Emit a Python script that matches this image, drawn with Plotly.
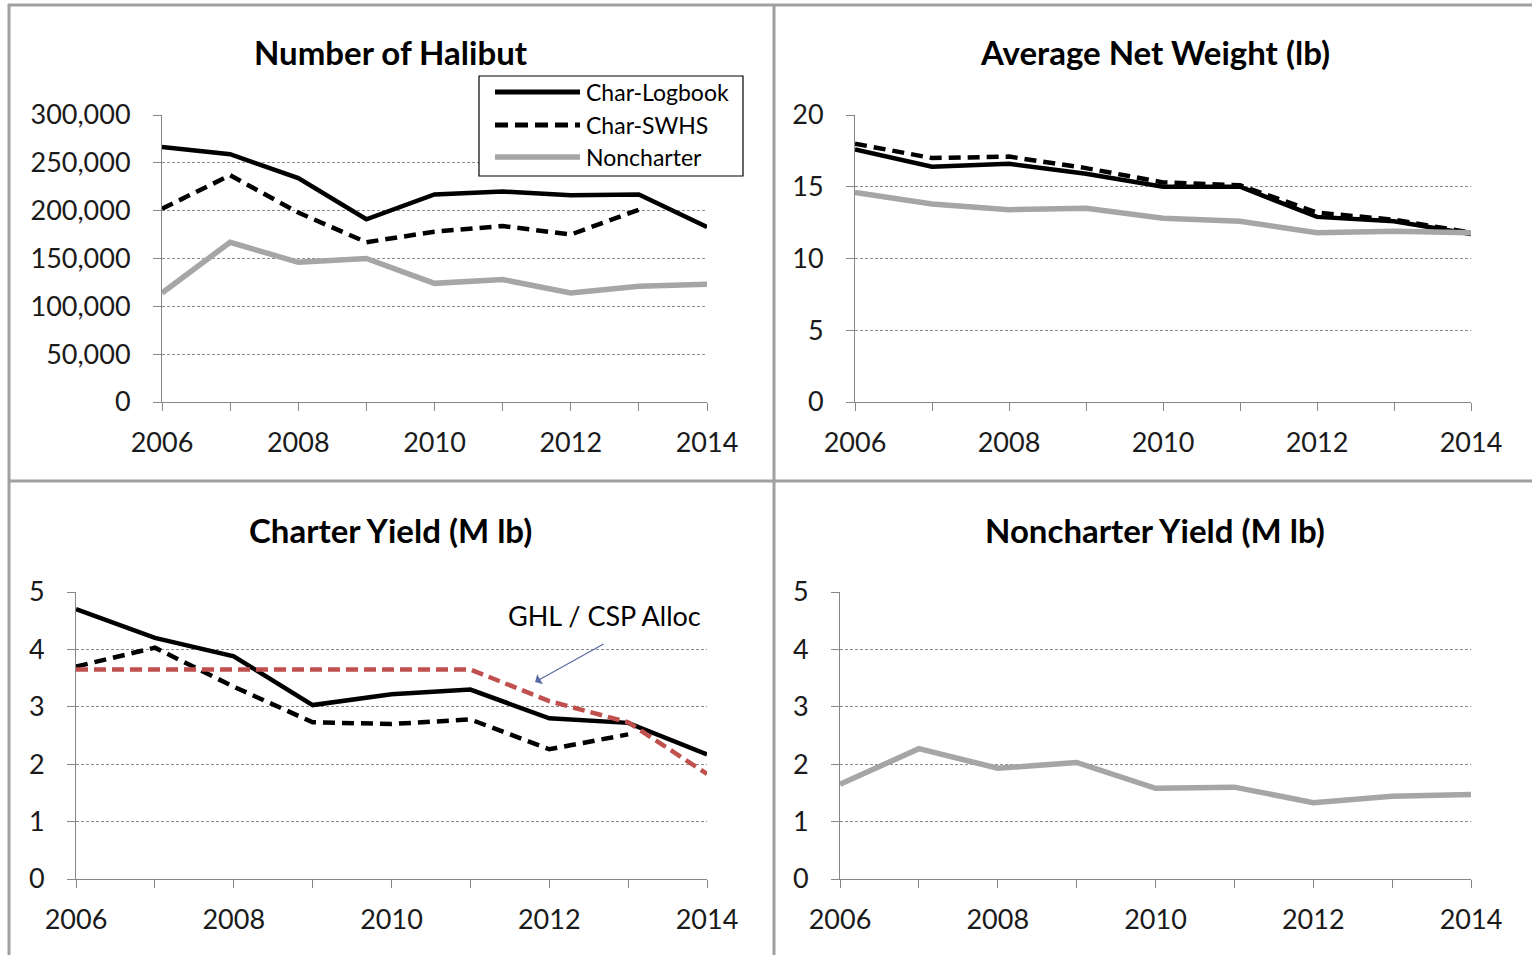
import plotly.graph_objects as go

years = [2006, 2007, 2008, 2009, 2010, 2011, 2012, 2013, 2014]
swhs_years = [2006, 2007, 2008, 2009, 2010, 2011, 2012, 2013]
year_ticks = [2006, 2007, 2008, 2009, 2010, 2011, 2012, 2013, 2014]
year_labels = ["2006", "", "2008", "", "2010", "", "2012", "", "2014"]

# Number of Halibut
num_logbook = [266500, 259000, 234000, 191000, 217000, 220000, 216000, 217000, 183000]
num_swhs = [202000, 237000, 198000, 167000, 178000, 184000, 175000, 201000]
num_nonch = [114000, 167000, 146000, 150000, 124000, 128000, 114000, 121000, 123000]

# Average Net Weight (lb)
wt_logbook = [17.6, 16.4, 16.6, 15.9, 15.0, 15.0, 12.9, 12.6, 11.7]
wt_swhs = [18.0, 17.0, 17.1, 16.3, 15.3, 15.1, 13.2, 12.7, 11.8]
wt_nonch = [14.6, 13.8, 13.4, 13.5, 12.8, 12.6, 11.8, 11.9, 11.8]

# Charter Yield (M lb)
cy_logbook = [4.70, 4.20, 3.88, 3.03, 3.22, 3.30, 2.80, 2.72, 2.17]
cy_swhs = [3.70, 4.03, 3.35, 2.73, 2.70, 2.78, 2.26, 2.52]
cy_ghl = [3.65, 3.65, 3.65, 3.65, 3.65, 3.65, 3.10, 2.73, 1.83]

# Noncharter Yield (M lb)
ny_nonch = [1.65, 2.27, 1.93, 2.03, 1.58, 1.60, 1.33, 1.44, 1.47]

titles = ["Number of Halibut", "Average Net Weight (lb)",
          "Charter Yield (M lb)", "Noncharter Yield (M lb)"]
legend_names = ["Char-Logbook", "Char-SWHS", "Noncharter"]

W, H = 1532, 955
FONT = "Lato, 'Open Sans', sans-serif"
BLACK = "#000000"
GREY_LINE = "#a6a6a6"
RED = "#c0504d"
AXIS = "#868686"


def px(x):
    return x / W


def py(y):
    return 1 - y / H


style_solid = dict(color=BLACK, width=4.5)
style_dash = dict(color=BLACK, width=4.5, dash="12px,7px")
style_grey = dict(color=GREY_LINE, width=5.5)
style_red = dict(color=RED, width=4.5, dash="12px,6px")

fig = go.Figure()

# panel 1
fig.add_trace(go.Scatter(x=years, y=num_logbook, mode="lines", line=style_solid, xaxis="x", yaxis="y", name=legend_names[0]))
fig.add_trace(go.Scatter(x=swhs_years, y=num_swhs, mode="lines", line=style_dash, xaxis="x", yaxis="y", name=legend_names[1]))
fig.add_trace(go.Scatter(x=years, y=num_nonch, mode="lines", line=style_grey, xaxis="x", yaxis="y", name=legend_names[2]))
# panel 2
fig.add_trace(go.Scatter(x=years, y=wt_logbook, mode="lines", line=style_solid, xaxis="x2", yaxis="y2"))
fig.add_trace(go.Scatter(x=years, y=wt_swhs, mode="lines", line=style_dash, xaxis="x2", yaxis="y2"))
fig.add_trace(go.Scatter(x=years, y=wt_nonch, mode="lines", line=style_grey, xaxis="x2", yaxis="y2"))
# panel 3
fig.add_trace(go.Scatter(x=years, y=cy_logbook, mode="lines", line=style_solid, xaxis="x3", yaxis="y3"))
fig.add_trace(go.Scatter(x=swhs_years, y=cy_swhs, mode="lines", line=style_dash, xaxis="x3", yaxis="y3"))
fig.add_trace(go.Scatter(x=years, y=cy_ghl, mode="lines", line=style_red, xaxis="x3", yaxis="y3"))
# panel 4
fig.add_trace(go.Scatter(x=years, y=ny_nonch, mode="lines", line=style_grey, xaxis="x4", yaxis="y4"))

panels = [
    # (x_left, x_right, y_bottom, y_top, yrange, dtick, fmt)
    (162, 707, 402, 115, [0, 300000], 50000, ",d"),
    (855, 1471, 402, 115, [0, 20], 5, "d"),
    (76, 707, 879, 592, [0, 5], 1, "d"),
    (840, 1471, 879, 592, [0, 5], 1, "d"),
]

layout = dict(
    width=W, height=H,
    margin=dict(l=0, r=0, t=0, b=0, pad=0, autoexpand=False),
    paper_bgcolor="white", plot_bgcolor="white",
    showlegend=False,
    font=dict(family=FONT, color="#000000"),
)

for i, (xl, xr, yb, yt, yr, dt, fmt) in enumerate(panels):
    sfx = "" if i == 0 else str(i + 1)
    layout["xaxis" + sfx] = dict(
        domain=[px(xl), px(xr)], range=[2006, 2014], anchor="y" + sfx,
        tickvals=year_ticks, ticktext=year_labels,
        ticks="outside", ticklen=8, tickcolor=AXIS, tickwidth=1,
        showline=True, linecolor=AXIS, linewidth=1,
        showgrid=False, zeroline=False, automargin=False,
        tickfont=dict(family=FONT, size=27, color="#1a1a1a"),
        ticklabelstandoff=9, fixedrange=True,
    )
    layout["yaxis" + sfx] = dict(
        domain=[py(yb), py(yt)], range=yr, anchor="x" + sfx,
        dtick=dt, tick0=0, tickformat=fmt,
        ticks="outside", ticklen=8, tickcolor=AXIS, tickwidth=1,
        showline=True, linecolor=AXIS, linewidth=1,
        showgrid=True, gridcolor="#8c8c8c", gridwidth=1, griddash="3px,2px",
        zeroline=False, automargin=False,
        tickfont=dict(family=FONT, size=27, color="#1a1a1a"),
        ticklabelstandoff=17, fixedrange=True,
    )

fig.update_layout(**layout)

# panel titles
title_pos = [(391, 52), (1155, 52), (390, 530), (1155, 530)]
for t, (cx, cy) in zip(titles, title_pos):
    fig.add_annotation(text="<b>" + t + "</b>", xref="paper", yref="paper",
                       x=px(cx), y=py(cy), xanchor="center", yanchor="middle",
                       showarrow=False, font=dict(family=FONT, size=33, color="#000000"))

# panel borders
border = dict(color="#a0a0a0", width=3)
shapes = [
    dict(type="line", xref="paper", yref="paper", x0=px(8), x1=1, y0=py(5), y1=py(5), line=border),
    dict(type="line", xref="paper", yref="paper", x0=px(9), x1=px(9), y0=py(4), y1=0, line=border),
    dict(type="line", xref="paper", yref="paper", x0=px(774), x1=px(774), y0=py(4), y1=0, line=border),
    dict(type="line", xref="paper", yref="paper", x0=px(8), x1=1, y0=py(481), y1=py(481), line=border),
]

# custom legend box in panel 1
shapes.append(dict(type="rect", xref="paper", yref="paper", x0=px(479), x1=px(743),
                   y0=py(176), y1=py(76), line=dict(color="#000000", width=1.2),
                   fillcolor="white", layer="above"))
legend_styles = [dict(color=BLACK, width=5), dict(color=BLACK, width=5, dash="13px,7px"),
                 dict(color=GREY_LINE, width=5.5)]
legend_rows = [92, 125, 157]
for name, st, ly in zip(legend_names, legend_styles, legend_rows):
    shapes.append(dict(type="line", xref="paper", yref="paper", x0=px(495), x1=px(580),
                       y0=py(ly), y1=py(ly), line=st, layer="above"))
    fig.add_annotation(text=name, xref="paper", yref="paper", x=px(584), y=py(ly),
                       xanchor="left", yanchor="middle", showarrow=False,
                       font=dict(family=FONT, size=23, color="#000000"))
fig.update_layout(shapes=shapes)

# GHL annotation
fig.add_annotation(text="GHL / CSP Alloc", xref="paper", yref="paper",
                   x=px(604), y=py(615), xanchor="center", yanchor="middle",
                   showarrow=False, font=dict(family=FONT, size=27, color="#000000"))
fig.add_annotation(text="", xref="x3", yref="y3", x=2011.82, y=3.43,
                   ax=70, ay=-39, axref="pixel", ayref="pixel",
                   showarrow=True, arrowhead=1, arrowsize=1.6, arrowwidth=1.2,
                   arrowcolor="#5b6ba3")

fig.write_html("out.html", post_script="document.body.style.margin='0';",
               config={"displayModeBar": False})
